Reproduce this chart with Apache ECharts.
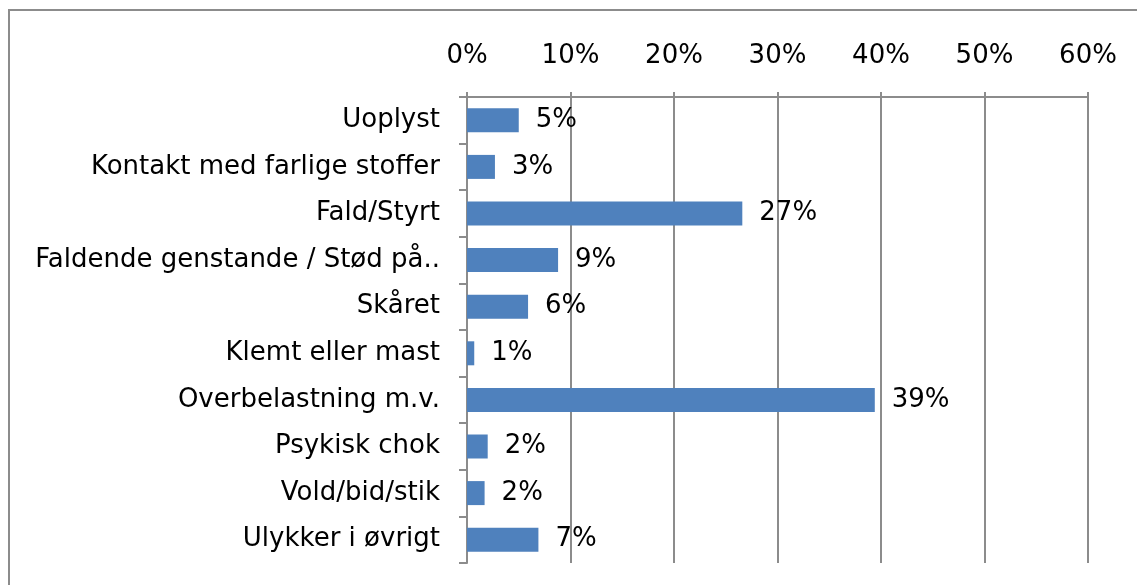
<!DOCTYPE html>
<html>
<head>
<meta charset="utf-8">
<script src="https://cdn.jsdelivr.net/npm/echarts@6/dist/echarts.min.js"></script>
<style>
  html, body { margin: 0; padding: 0; background: #fff; }
  #main { width: 1137px; height: 585px; }
</style>
</head>
<body>
<div id="main"></div>
<script>
// kategorier, oppefra og ned
var categories = ['Uoplyst', 'Kontakt med farlige stoffer', 'Fald/Styrt', 'Faldende genstande / Stød på..',
  'Skåret', 'Klemt eller mast', 'Overbelastning m.v.', 'Psykisk chok', 'Vold/bid/stik', 'Ulykker i øvrigt'];
// andel i procent (aflæst)
var shares = [5.0, 2.7, 26.6, 8.8, 5.9, 0.7, 39.4, 2.0, 1.7, 6.9];
var tickMin = 0, tickMax = 60, tickStep = 10;

var font = 'DejaVu Sans';
var fs = 26;
var chart = echarts.init(document.getElementById('main'));
chart.setOption({
  animation: false,
  textStyle: { fontFamily: font },
  graphic: [{
    type: 'rect',
    shape: { x: 9, y: 10, width: 1140, height: 600 },
    style: { fill: 'none', stroke: '#8c8c8c', lineWidth: 2 }
  }],
  grid: { left: 467, right: 49, top: 97, bottom: 22 },
  xAxis: {
    type: 'value',
    position: 'top',
    min: tickMin, max: tickMax, interval: tickStep,
    axisLine: { show: true, lineStyle: { color: '#8c8c8c', width: 2 } },
    axisTick: { show: true, length: 5, lineStyle: { color: '#8c8c8c', width: 2 } },
    splitLine: { show: true, lineStyle: { color: '#8c8c8c', width: 2 } },
    axisLabel: { formatter: '{value}%', margin: 28, color: '#000', fontSize: fs, fontFamily: font }
  },
  yAxis: {
    type: 'category',
    inverse: true,
    data: categories,
    axisLine: { show: true, lineStyle: { color: '#8c8c8c', width: 2 } },
    axisTick: { show: true, length: 8, lineStyle: { color: '#8c8c8c', width: 2 } },
    axisLabel: { margin: 27, color: '#000', fontSize: fs, fontFamily: font }
  },
  series: [{
    type: 'bar',
    data: shares,
    barWidth: 24,
    itemStyle: { color: '#4f81bd' },
    label: {
      show: true, position: 'right', distance: 17,
      color: '#000', fontSize: fs, fontFamily: font,
      formatter: function (p) { return Math.round(p.value) + '%'; }
    }
  }]
});
</script>
</body>
</html>
